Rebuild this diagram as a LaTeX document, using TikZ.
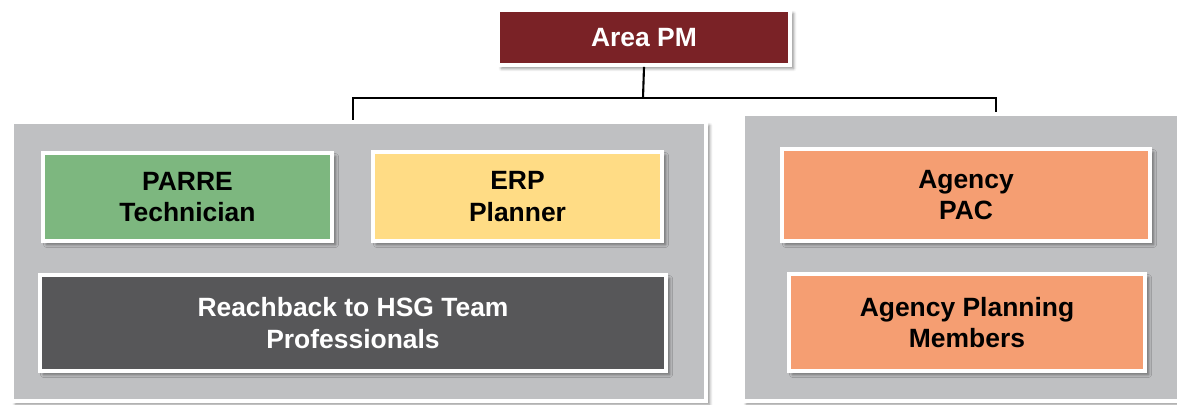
\documentclass[tikz,border=0pt]{standalone}
\usepackage{fontspec}
\setmainfont{Liberation Sans}
\usetikzlibrary{positioning, shadows.blur}

\definecolor{pmred}{HTML}{7A2226}
\definecolor{grpgray}{HTML}{BFC0C2}
\definecolor{parregreen}{HTML}{7DB77F}
\definecolor{erpyellow}{HTML}{FFDC85}
\definecolor{hsgdark}{HTML}{575759}
\definecolor{agencyorange}{HTML}{F59E72}

\begin{document}
\begin{tikzpicture}[
  x=0.025cm, y=-0.025cm,
  box/.style  ={draw=white, line width=2.8pt, rectangle, align=center,
                font=\bfseries\fontsize{18.8}{22.4}\selectfont, inner sep=0pt,
                blur shadow={shadow xshift=2.5pt, shadow yshift=-2.5pt,
                             shadow blur steps=6, shadow opacity=45}},
  group/.style={box, fill=grpgray, line width=3pt},
  link/.style ={draw=black, line width=1.5pt},
]
\useasboundingbox (0,0) rectangle (1177,405);

%% ---- Groups ----
\node[group, minimum width=17.35cm, minimum height=6.975cm] (lgrp) at (359,261.5) {};
\node[group, minimum width=10.9cm,  minimum height=7.175cm] (rgrp) at (961,257.5) {};

%% ---- Nodes ----
\node[box, fill=pmred, text=white, minimum width=7.3cm, minimum height=1.375cm]
  (pm) at (644,37.5) {Area PM};
\node[box, fill=parregreen, minimum width=7.225cm, minimum height=2.2cm]
  (parre) at (187.5,197) {PARRE\\Technician};
\node[box, fill=erpyellow, minimum width=7.225cm, minimum height=2.225cm]
  (erp) at (517.5,196.5) {ERP\\Planner};
\node[box, fill=hsgdark, text=white, minimum width=15.65cm, minimum height=2.4cm]
  (hsg) at (353,323) {Reachback to HSG Team\\Professionals};
\node[box, fill=agencyorange, minimum width=9.2cm, minimum height=2.3cm]
  (pac) at (966,195) {Agency\\PAC};
\node[box, fill=agencyorange, minimum width=8.9cm, minimum height=2.425cm]
  (apm) at (967,322.5) {Agency Planning\\Members};

%% ---- Area PM -> Groups ----
\coordinate (bus) at (643,98);
\draw[link] (pm.south) -- (bus);
\draw[link] ([xshift=-0.15cm]lgrp.north) |- (bus) -| ([xshift=0.875cm]rgrp.north);

\end{tikzpicture}
\end{document}
